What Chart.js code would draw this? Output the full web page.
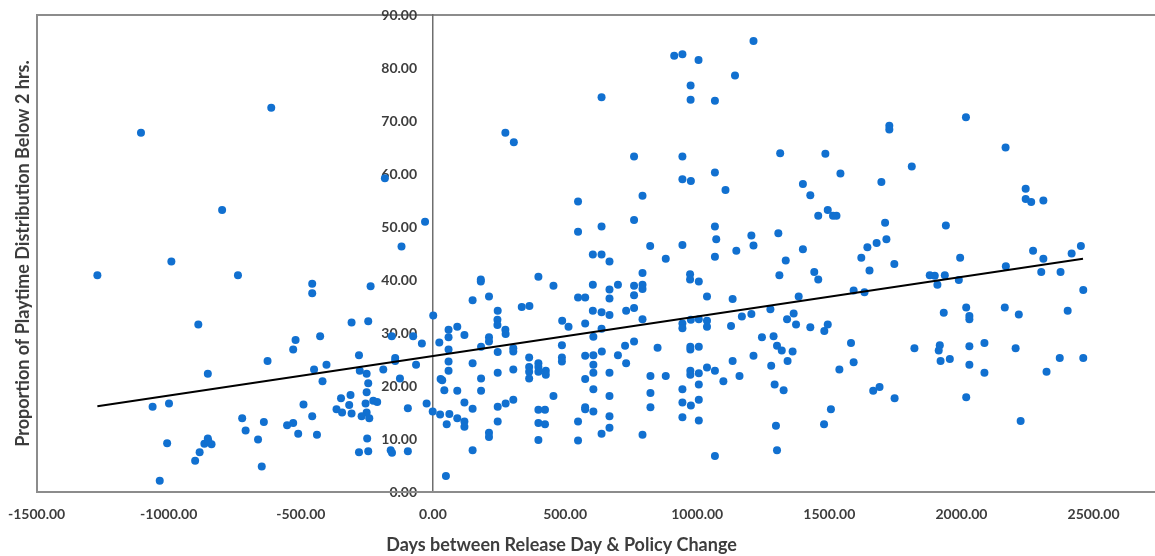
<!DOCTYPE html>
<html>
<head>
<meta charset="utf-8">
<title>Playtime below 2 hrs vs days between release and policy change</title>
<script src="https://cdn.jsdelivr.net/npm/chart.js@4.4.1/dist/chart.umd.min.js"></script>
<style>
  html, body { margin: 0; padding: 0; background: #fff; overflow: hidden; }
  /* the original picture is cropped on the right: the plot runs past the visible edge */
  #wrap { width: 1155px; height: 556px; overflow: hidden; position: relative; }
  #inner { width: 1175px; height: 556px; }
</style>
</head>
<body>
<div id="wrap"><div id="inner"><canvas id="scatter-chart"></canvas></div></div>
<script>
// [days between release & policy change, % of playtime below 2 hrs]
// games released before the policy change
const beforeChange = [
    [-1270, 40.9], [-1105, 67.8], [-612, 72.5], [-798, 53.2], [-990, 43.5], [-182, 59.2], [-30, 51.0],
    [-119, 46.3], [-738, 40.9], [-457, 39.3], [-457, 37.5], [-236, 38.8], [1, 33.3], [-888, 31.6],
    [-308, 32.0], [-245, 32.2], [-156, 29.4], [-75, 29.4], [-520, 28.7], [-427, 29.4], [-42, 28.0],
    [-529, 26.9], [-280, 25.8], [-143, 25.3], [-626, 24.7], [-403, 24.0], [-143, 24.7], [-64, 24.0],
    [-450, 23.1], [-277, 22.9], [-251, 22.3], [-188, 23.1], [-852, 22.3], [-418, 20.9], [-125, 21.4],
    [-245, 20.5], [-312, 18.3], [-348, 17.7], [-251, 18.8], [-226, 17.2], [-211, 17.0], [-255, 16.7],
    [-317, 16.4], [-490, 16.5], [-999, 16.7], [-1061, 16.1], [-24, 16.7], [-95, 15.8], [-365, 15.6],
    [-344, 15.0], [-308, 14.8], [-251, 15.0], [-1, 15.2], [-457, 14.3], [-270, 14.3], [-241, 13.9],
    [-722, 13.9], [-640, 13.2], [-552, 12.6], [-529, 13.0], [-709, 11.6], [-510, 11.0], [-439, 10.8],
    [-1006, 9.2], [-852, 10.1], [-865, 9.1], [-838, 9.0], [-850, 9.6], [-662, 9.9], [-249, 10.1],
    [-883, 7.5], [-900, 5.9], [-280, 7.5], [-245, 7.7], [-160, 7.9], [-155, 7.4], [-95, 7.7],
    [-648, 4.8], [-1034, 2.1]
];

// released 0 - 520 days after
const firstYear = [
    [24, 28.2], [43, 19.2], [27, 14.6], [52, 12.8], [49, 3.0], [181, 40.1], [181, 39.7], [399, 40.6],
    [456, 38.9], [212, 36.9], [150, 36.2], [336, 34.9], [365, 35.1], [245, 34.2], [244, 32.5],
    [244, 31.5], [489, 32.3], [513, 31.2], [59, 30.6], [92, 31.2], [274, 30.6], [59, 29.2], [119, 29.6],
    [59, 26.9], [59, 24.6], [59, 22.9], [29, 21.3], [35, 21.1], [92, 19.1], [150, 24.3], [182, 21.4],
    [182, 19.1], [119, 16.9], [150, 15.7], [62, 14.7], [92, 13.9], [119, 13.3], [119, 12.3], [150, 7.9],
    [182, 27.4], [212, 29.2], [212, 28.4], [275, 29.8], [245, 26.4], [245, 22.5], [304, 27.1],
    [304, 26.5], [304, 23.1], [304, 17.4], [275, 16.7], [245, 16.1], [245, 13.3], [212, 11.2],
    [212, 10.4], [364, 25.4], [364, 23.6], [364, 22.7], [364, 21.4], [399, 24.3], [399, 23.6],
    [399, 22.7], [427, 22.9], [427, 22.1], [399, 15.5], [424, 15.5], [399, 13.0], [424, 12.8],
    [399, 9.8], [456, 18.1], [488, 27.7], [488, 25.4], [488, 24.6], [274, 67.8], [306, 66.0]
];

// released 520 - 1450 days after
const middleYears = [
    [761, 63.3], [944, 63.3], [1314, 63.9], [944, 59.0], [976, 58.7], [1067, 60.3], [1107, 57.0],
    [549, 54.8], [793, 55.9], [761, 51.3], [549, 49.1], [638, 50.1], [1067, 50.1], [1072, 47.7],
    [1307, 48.8], [1205, 48.4], [1213, 46.5], [822, 46.4], [944, 46.6], [605, 44.8], [638, 44.8],
    [668, 43.5], [881, 44.0], [1067, 44.4], [1148, 45.5], [1335, 43.7], [1400, 45.8], [793, 41.3],
    [973, 41.1], [973, 40.1], [1006, 39.7], [1311, 40.9], [605, 39.1], [668, 38.2], [668, 36.5],
    [700, 39.1], [761, 38.9], [761, 37.1], [793, 39.1], [793, 38.3], [549, 36.7], [576, 36.7],
    [1037, 36.9], [1134, 36.4], [1384, 36.9], [605, 34.2], [638, 33.9], [668, 33.4], [731, 34.2],
    [761, 34.7], [793, 32.6], [576, 31.8], [638, 30.8], [944, 31.8], [944, 30.9], [976, 32.5],
    [1006, 32.6], [1037, 32.3], [1037, 31.2], [1128, 31.3], [1169, 33.1], [1205, 33.6], [1277, 34.5],
    [1365, 33.7], [1340, 32.6], [1374, 31.6],
    [607, 29.3], [576, 25.7], [607, 25.8], [639, 26.5], [607, 24.0], [607, 22.5], [576, 21.3],
    [607, 19.4], [668, 22.5], [668, 18.1], [700, 25.8], [727, 27.6], [761, 28.4], [731, 24.3],
    [576, 16.0], [576, 15.6], [607, 15.2], [549, 13.3], [549, 9.7], [668, 14.3], [668, 12.1],
    [638, 11.0], [793, 10.8], [823, 21.9], [823, 18.7], [823, 16.0], [850, 27.2], [881, 21.9],
    [974, 27.4], [974, 26.9], [1006, 27.4], [974, 22.9], [974, 22.1], [1006, 22.4], [1037, 23.5],
    [1067, 22.9], [1006, 20.3], [1099, 20.9], [1160, 21.9], [1134, 24.7], [944, 19.4], [944, 16.9],
    [976, 16.3], [1006, 17.4], [944, 14.1], [1006, 13.5], [1067, 6.8], [1213, 25.7], [1245, 29.2],
    [1289, 29.4], [1302, 27.6], [1320, 26.7], [1361, 26.5], [1342, 24.7], [1280, 23.8], [1293, 20.3],
    [1327, 19.2], [1298, 12.5], [1302, 7.9],
    [1213, 85.1], [913, 82.3], [944, 82.6], [1005, 81.5], [1143, 78.6], [975, 76.7], [638, 74.5],
    [975, 74.0], [1067, 73.8], [1400, 58.1], [1428, 56.0]
];

// released more than 1400 days after
const lateYears = [
    [2017, 70.7], [1727, 69.1], [1727, 68.4], [2167, 65.0], [1485, 63.8], [1812, 61.4], [1542, 60.1],
    [1697, 58.5], [1494, 53.2], [1458, 52.1], [1514, 52.1], [1527, 52.1], [1711, 50.8], [1941, 50.3],
    [2243, 57.2], [2243, 55.3], [2264, 54.7], [2310, 55.0], [1716, 47.7], [1679, 47.0], [1644, 46.2],
    [1621, 44.2], [1995, 44.2], [2271, 45.5], [2452, 46.4], [2417, 45.0], [2310, 44.0], [2168, 42.6],
    [2302, 41.5], [2375, 41.5], [1443, 41.5], [1652, 41.8], [1746, 43.0], [1880, 40.9], [1899, 40.8],
    [1937, 40.9], [1458, 40.1],
    [1909, 39.1], [1990, 40.0], [2461, 38.1], [1592, 38.0], [1633, 37.7], [1428, 31.1], [1481, 30.4],
    [1494, 31.6], [1582, 28.1], [1592, 24.5], [1538, 23.1], [1666, 19.1], [1690, 19.8], [1747, 17.7],
    [1506, 15.6], [1480, 12.8], [1822, 27.1], [1933, 33.8], [2018, 34.8], [2030, 33.2], [2030, 32.6],
    [2164, 34.8], [2217, 33.5], [2402, 34.2], [1918, 27.7], [1914, 26.7], [2030, 27.5], [2087, 28.1],
    [2205, 27.1], [1921, 24.7], [1956, 25.1], [2030, 24.0], [2087, 22.5], [2322, 22.7], [2372, 25.3],
    [2461, 25.3], [2018, 17.9], [2224, 13.4]
];

// linear trend line end points
const trendDays = [-1270, 2460];
const trendShare = [16.2, 44.0];

// axis ticks
const xTickValues = [-1500, -1000, -500, 0, 500, 1000, 1500, 2000, 2500];
const yTickStep = 10;

const textColor = '#3d3d3d';
const frameColor = '#8c8c8c';
const noColor = 'rgba(0,0,0,0)';
const tickFont = { family: 'Lato', size: 14, weight: 'bold' };
const titleFont = { family: 'Lato', size: 18, weight: 'bold' };

let chart;

function toPoints(rows) {
    return rows.map(r => ({ x: r[0], y: r[1] }));
}

function initializeChart() {
    const ctx = document.getElementById('scatter-chart').getContext('2d');
    const games = [].concat(beforeChange, firstYear, middleYears, lateYears);

    chart = new Chart(ctx, {
        type: 'scatter',
        data: {
            datasets: [{
                // trend line first so it is drawn on top of the dots
                label: 'Linear trend',
                data: trendDays.map((d, i) => ({ x: d, y: trendShare[i] })),
                showLine: true,
                borderColor: '#000',
                borderWidth: 2,
                pointRadius: 0,
                yAxisID: 'y'
            }, {
                label: 'Games',
                data: toPoints(games),
                backgroundColor: '#1170d0',
                borderWidth: 0,
                pointRadius: 4,
                yAxisID: 'y'
            }]
        },
        options: {
            responsive: true,
            maintainAspectRatio: false,
            animation: false,
            // negative left padding: the x title sits left of the visible plot centre (cropped original)
            layout: { padding: { left: -52, top: 15, right: 0, bottom: 0 } },
            plugins: {
                legend: { display: false },
                tooltip: { enabled: false },
                title: {
                    display: true,
                    position: 'bottom',
                    text: 'Days between Release Day & Policy Change',
                    font: titleFont,
                    color: textColor,
                    padding: { top: 11.6, bottom: 0 }
                }
            },
            scales: {
                y: {
                    axis: 'y',
                    type: 'linear',
                    position: { x: 0 },
                    min: 0,
                    max: 90,
                    ticks: { display: false, stepSize: yTickStep },
                    grid: {
                        drawTicks: false,
                        lineWidth: 2,
                        color: c => (c.tick && c.tick.value === 90) ? frameColor : noColor
                    },
                    border: { color: '#6e6e6e', width: 1.5 }
                },
                yLabels: {
                    axis: 'y',
                    type: 'linear',
                    position: { x: -60 },
                    min: 0,
                    max: 90,
                    ticks: { stepSize: yTickStep, font: tickFont, color: textColor, callback: v => v.toFixed(2) },
                    grid: { display: false, drawTicks: false },
                    border: { display: false }
                },
                yTitle: {
                    axis: 'y',
                    type: 'linear',
                    position: 'left',
                    min: 0,
                    max: 1,
                    ticks: { display: false },
                    grid: { display: false, drawTicks: false },
                    border: { color: frameColor, width: 2 },
                    title: {
                        display: true,
                        text: 'Proportion of Playtime Distribution Below 2 hrs.',
                        font: titleFont,
                        color: textColor,
                        padding: { top: 64, bottom: 3 }
                    }
                },
                x: {
                    type: 'linear',
                    position: 'bottom',
                    min: -1500,
                    max: 2793,
                    afterBuildTicks: s => { s.ticks = xTickValues.map(v => ({ value: v })); },
                    ticks: {
                        autoSkip: false,
                        maxRotation: 0,
                        padding: 0,
                        font: tickFont,
                        color: textColor,
                        callback: v => v.toFixed(2)
                    },
                    grid: {
                        tickLength: 14,
                        tickColor: noColor,
                        lineWidth: 2,
                        color: noColor
                    },
                    border: { color: frameColor, width: 2 }
                }
            }
        }
    });
}

window.onload = initializeChart;
</script>
</body>
</html>
